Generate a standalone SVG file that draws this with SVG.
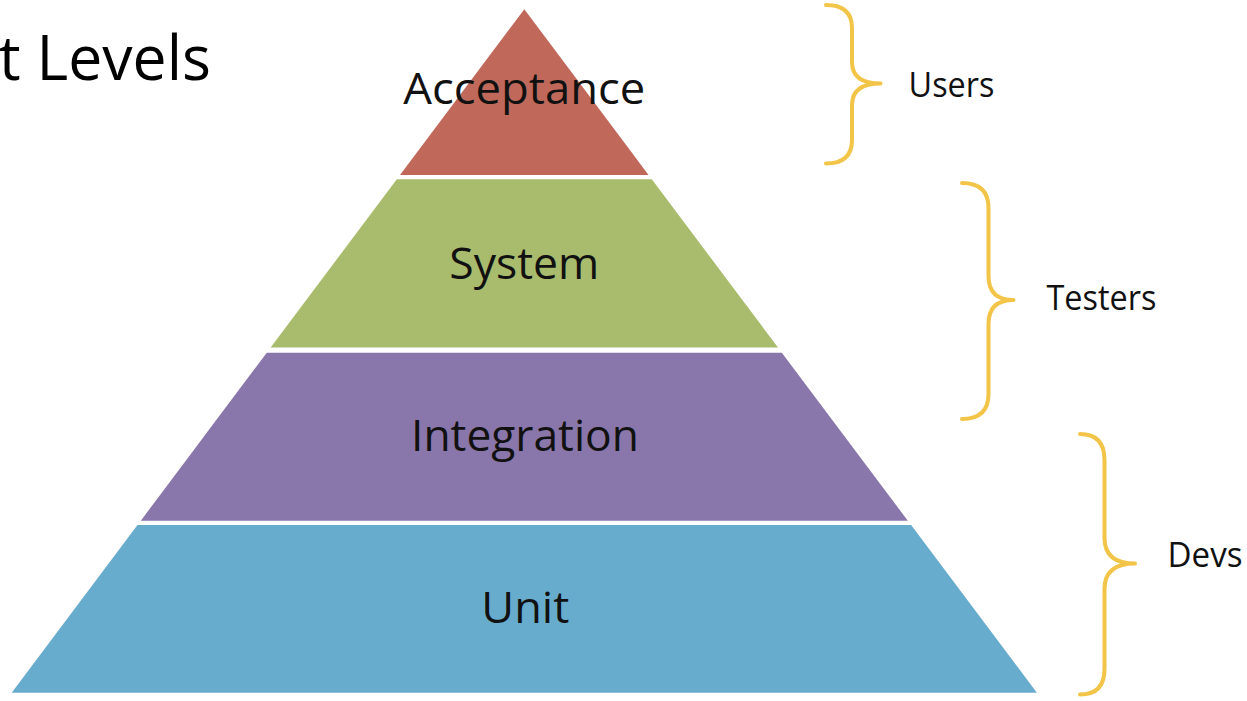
<svg xmlns="http://www.w3.org/2000/svg" width="1247" height="701" viewBox="0 0 1247 701">
  <style>
    .lvl { font-family: "Open Sans", "Noto Sans", "Liberation Sans", sans-serif; font-size: 44.5px; fill: #111; text-anchor: middle; }
    .who { font-family: "Open Sans", "Noto Sans", "Liberation Sans", sans-serif; font-size: 34px; fill: #111; }
    .title { font-family: "Open Sans", "Noto Sans", "Liberation Sans", sans-serif; font-size: 63px; fill: #000; }
    .brace { fill: none; stroke: #F2C447; stroke-width: 4; stroke-linecap: round; stroke-linejoin: round; }
  </style>
  <rect width="1247" height="701" fill="#ffffff"/>

  <text class="title" x="-1" y="80" textLength="212" lengthAdjust="spacingAndGlyphs">t Levels</text>

  <g id="acceptance">
    <polygon points="524.3,9.3 648.6,175 400,175" fill="#C0695A"/>
    <text class="lvl" x="524.3" y="104" textLength="242" lengthAdjust="spacingAndGlyphs">Acceptance</text>
  </g>
  <g id="system">
    <polygon points="396.8,179.3 651.8,179.3 778,347.5 270.6,347.5" fill="#A9BC6E"/>
    <text class="lvl" x="524.3" y="278.5" textLength="150" lengthAdjust="spacingAndGlyphs">System</text>
  </g>
  <g id="integration">
    <polygon points="266.8,352.7 781.8,352.7 907.8,520.7 140.8,520.7" fill="#8976AA"/>
    <text class="lvl" x="525" y="450.5" textLength="228" lengthAdjust="spacingAndGlyphs">Integration</text>
  </g>
  <g id="unit">
    <polygon points="137.5,525 911.1,525 1036.9,692.7 11.7,692.7" fill="#68ACCD"/>
    <text class="lvl" x="525.3" y="622.7" textLength="88" lengthAdjust="spacingAndGlyphs">Unit</text>
  </g>

  <g id="connectors">
    <path class="brace" d="M826,5 Q852,5 852,28 L852,62 Q852,83.5 880.5,83.5 Q852,83.5 852,105 L852,140 Q852,163.5 826,163.5"/>
    <path class="brace" d="M962,183 Q988.5,183 988.5,208 L988.5,276 Q988.5,300 1013.5,300 Q988.5,300 988.5,324 L988.5,394 Q988.5,419 962,419"/>
    <path class="brace" d="M1080,434 Q1104.5,434 1104.5,460 L1104.5,538 Q1104.5,563.5 1135,563.5 Q1104.5,563.5 1104.5,589 L1104.5,669 Q1104.5,694.5 1080,694.5"/>
  </g>

  <g id="users">
    <text class="who" x="908.5" y="96.7" textLength="86" lengthAdjust="spacingAndGlyphs">Users</text>
  </g>
  <g id="testers">
    <text class="who" x="1046.5" y="310" textLength="110" lengthAdjust="spacingAndGlyphs">Testers</text>
  </g>
  <g id="devs">
    <text class="who" x="1167.5" y="567.3" textLength="75" lengthAdjust="spacingAndGlyphs">Devs</text>
  </g>
</svg>
